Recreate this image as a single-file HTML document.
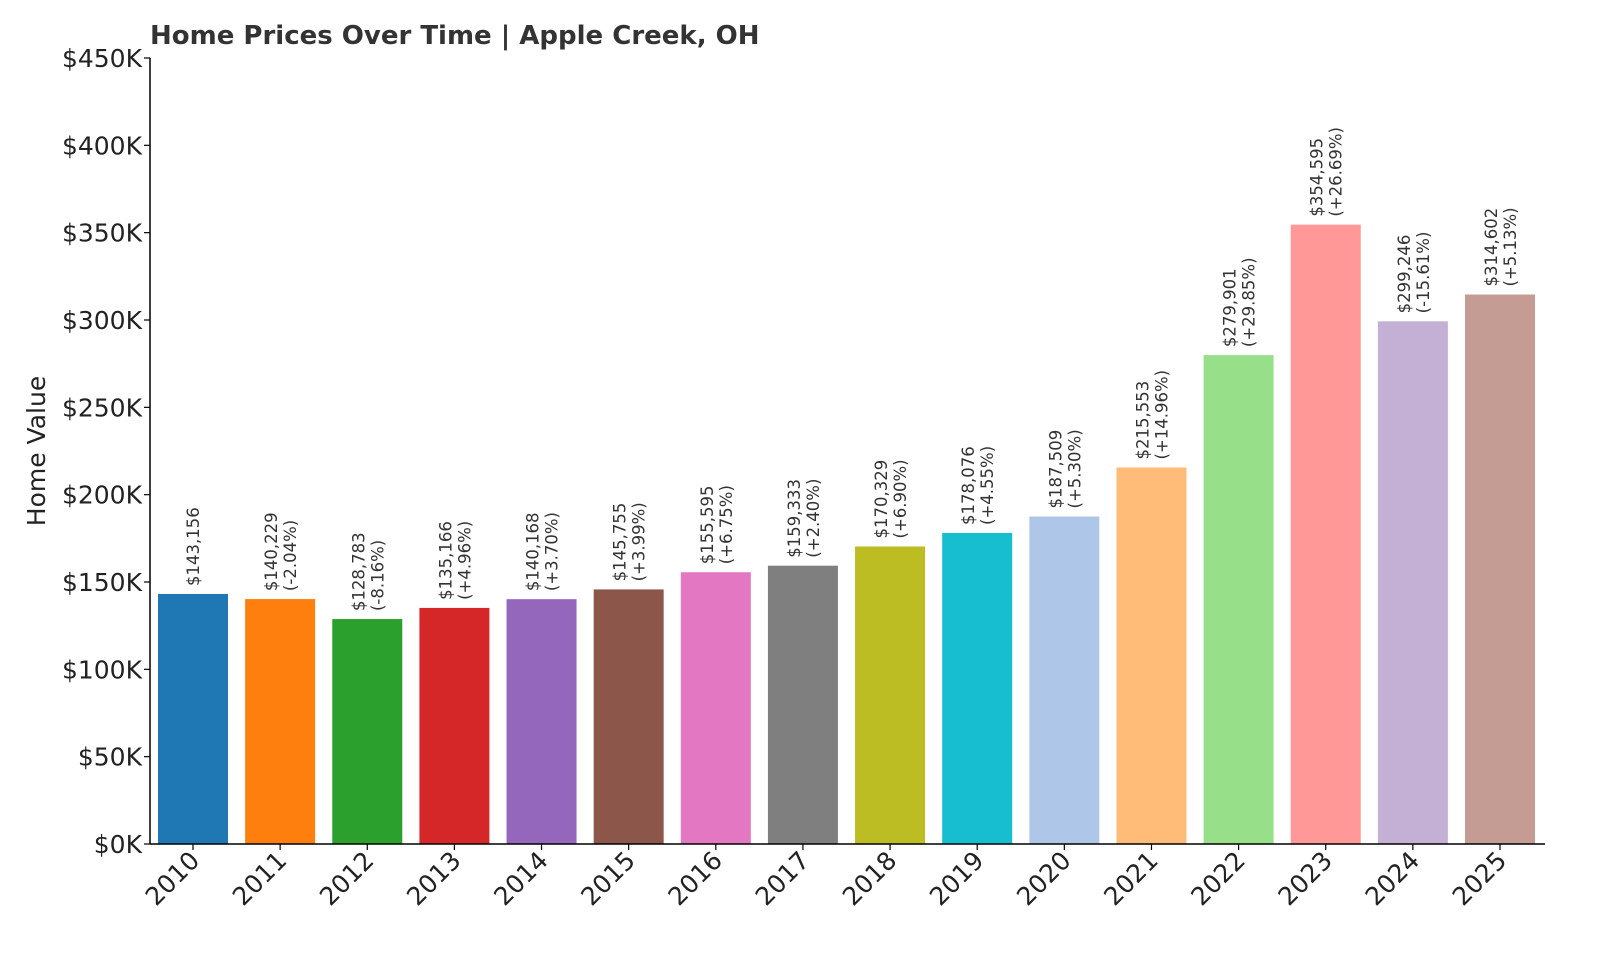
<!DOCTYPE html>
<html><head><meta charset="utf-8"><style>
body{margin:0;background:#fff;}
svg{display:block;font-family:"DejaVu Sans","Liberation Sans",sans-serif;}
</style></head><body>
<svg id="chart" width="1600" height="960" viewBox="0 0 1600 960">
<text x="150" y="44" font-size="26" font-weight="bold" fill="#333">Home Prices Over Time | Apple Creek, OH</text>
<text transform="translate(45,451) rotate(-90)" text-anchor="middle" font-size="25" fill="#222">Home Value</text>
<g id="yaxis"></g>
<g id="bars"></g>
<g id="xaxis"></g>
</svg>
<script>
const years = ["2010","2011","2012","2013","2014","2015","2016","2017","2018","2019","2020","2021","2022","2023","2024","2025"];
const values = [143156,140229,128783,135166,140168,145755,155595,159333,170329,178076,187509,215553,279901,354595,299246,314602];
const changes = [null,"-2.04%","-8.16%","+4.96%","+3.70%","+3.99%","+6.75%","+2.40%","+6.90%","+4.55%","+5.30%","+14.96%","+29.85%","+26.69%","-15.61%","+5.13%"];
const yTicks = [0,50000,100000,150000,200000,250000,300000,350000,400000,450000];
const colors = ["#1f77b4","#ff7f0e","#2ca02c","#d62728","#9467bd","#8c564b","#e377c2","#7f7f7f","#bcbd22","#17becf","#aec7e8","#ffbb78","#98df8a","#ff9896","#c5b0d5","#c49c94"];
const NS="http://www.w3.org/2000/svg";
const x0=150,x1=1545,yTop=58,yBot=844,yMax=450000;
const y=v=>yBot-(v/yMax)*(yBot-yTop);
const step=(1500-193)/15;
const xc=i=>193+i*step;
const bw=70;
function mk(t,a,p){const e=document.createElementNS(NS,t);for(const k in a)e.setAttribute(k,a[k]);p.appendChild(e);return e;}
const ya=document.getElementById('yaxis'),ba=document.getElementById('bars'),xa=document.getElementById('xaxis');
const yl=mk('line',{x1:x0,x2:x0,y1:yTop,y2:yBot,stroke:'#000','stroke-width':1.5},ya);


yTicks.forEach(v=>{
  const t=mk('line',{x1:x0-6,x2:x0,y1:y(v),y2:y(v),stroke:'#000','stroke-width':1.2},ya);
  
  
  const l=mk('text',{x:x0-8,y:y(v)+9,'text-anchor':'end','font-size':25,fill:'#222'},ya);
  l.textContent='$'+(v/1000)+'K';
  
  
});
const xl=mk('line',{x1:x0,x2:x1,y1:yBot,y2:yBot,stroke:'#000','stroke-width':1.5},xa);


years.forEach((yr,i)=>{
  const cx=xc(i),top=y(values[i]);
  const r=mk('rect',{x:cx-bw/2,y:top,width:bw,height:yBot-top,fill:colors[i]},ba);
  
  
  const g=mk('g',{transform:`translate(${cx},${top-8}) rotate(-90)`},ba);
  
  
  const s='$'+values[i].toLocaleString('en-US');
  if(changes[i]===null){
    const t=mk('text',{x:0,y:6,'font-size':16.5,fill:'#333'},g);t.textContent=s;
  } else {
    const t1=mk('text',{x:0,y:-3,'font-size':16.5,fill:'#333'},g);t1.textContent=s;
    const t2=mk('text',{x:0,y:16,'font-size':16.5,fill:'#333'},g);t2.textContent='('+changes[i]+')';
  }
  const tk=mk('line',{x1:cx,x2:cx,y1:yBot,y2:yBot+6,stroke:'#000','stroke-width':1.2},xa);
  
  
  const lb=mk('text',{transform:`translate(${cx+8},${yBot+18}) rotate(-45)`,'text-anchor':'end','font-size':25,fill:'#222'},xa);
  lb.textContent=yr;
  
  
});
</script>
</body></html>
